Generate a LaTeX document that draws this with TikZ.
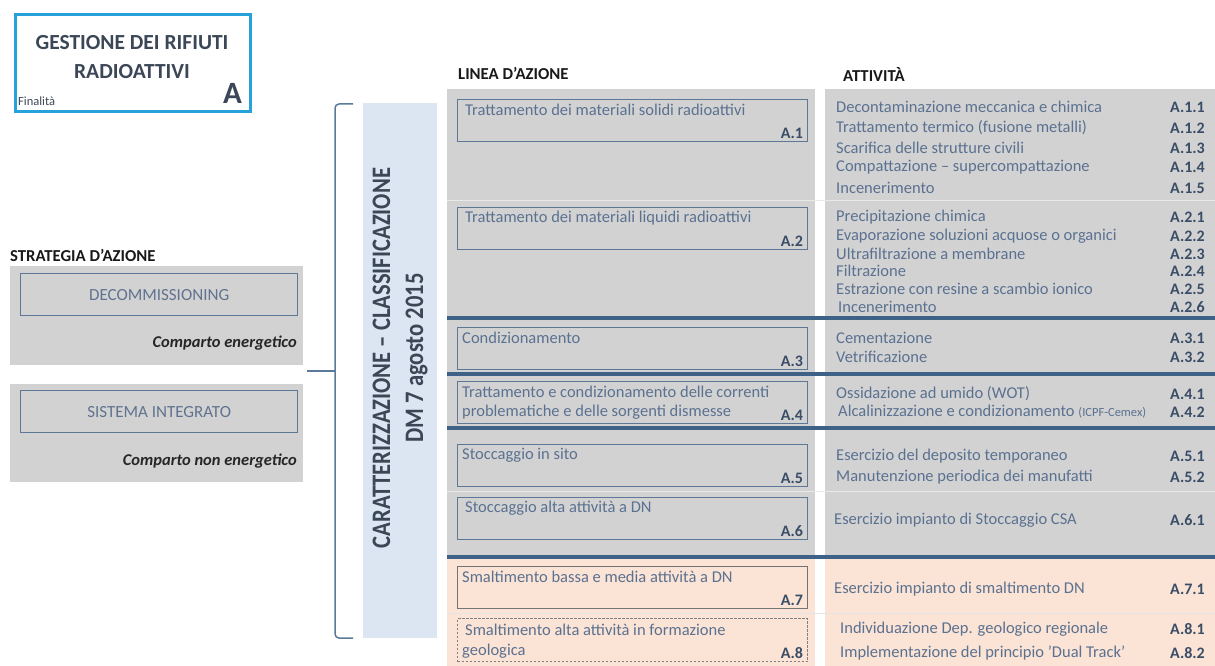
\documentclass[tikz,border=0pt]{standalone}
\usepackage{fontspec}
\setmainfont{Carlito}
\usetikzlibrary{positioning}
\definecolor{titleblue}{HTML}{27A1DA}
\definecolor{darktext}{HTML}{3B4756}
\definecolor{boxtext}{HTML}{5A7190}
\definecolor{boxborder}{HTML}{5D7896}
\definecolor{codetext}{HTML}{3A4D66}
\definecolor{panelgray}{HTML}{D2D2D3}
\definecolor{bandblue}{HTML}{DCE6F2}
\definecolor{peach}{HTML}{FBE3D5}
\definecolor{thickblue}{HTML}{3E6287}
\definecolor{thinline}{HTML}{E9E9EA}
\definecolor{bracecol}{HTML}{5B7A99}
\tikzset{
  panel/.style={fill=panelgray, draw=none},
  lbox/.style={draw=boxborder, line width=1.3pt, fill=panelgray, minimum width=350pt, minimum height=42pt, anchor=north west, inner sep=0pt},
  ltext/.style={anchor=west, inner sep=0pt, text=boxtext, font=\fontsize{16.5}{19}\selectfont},
  lcode/.style={anchor=south east, inner sep=0pt, text=codetext, font=\bfseries\fontsize{16}{19}\selectfont, xshift=-5pt, yshift=3pt},
  atext/.style={anchor=west, inner sep=0pt, text=boxtext, font=\fontsize{16.5}{19}\selectfont},
  acode/.style={anchor=east, inner sep=0pt, text=codetext, font=\bfseries\fontsize{16}{19}\selectfont},
  thickline/.style={draw=thickblue, line width=3.5pt},
  thinsep/.style={draw=thinline, line width=1pt},
  hdr/.style={anchor=west, inner sep=0pt, text=black!90, font=\bfseries\fontsize{16.7}{19}\selectfont},
  sbox/.style={draw=boxborder, line width=1.3pt, fill=panelgray, minimum width=277pt, minimum height=42pt, anchor=north west, inner sep=0pt, text=boxtext!85!gray, font=\fontsize{17}{19}\selectfont},
  comparto/.style={anchor=east, inner sep=0pt, text=black!85, font=\bfseries\itshape\fontsize{16.5}{19}\selectfont},
  bracepath/.style={draw=bracecol, line width=1.5pt, rounded corners=4pt},
}
\begin{document}
\begin{tikzpicture}[x=1pt, y=-1pt]
\useasboundingbox (0,0) rectangle (1215,666);
\fill[white] (0,0) rectangle (1215,666);

% title box
\node[draw=titleblue, line width=3pt, fill=white, minimum width=235pt, minimum height=97pt, anchor=north west, inner sep=0pt] (title) at (14,13) {};
\node[inner sep=0pt, text=darktext, align=center, font=\bfseries\fontsize{21.5}{29}\selectfont] (titletext) at (132,57) {GESTIONE DEI RIFIUTI\\RADIOATTIVI};
\node[anchor=west, inner sep=0pt, text=darktext, font=\fontsize{12.5}{14}\selectfont] (fin) at (18,101) {Finalità};
\node[anchor=east, inner sep=0pt, text=darktext, font=\bfseries\fontsize{31}{34}\selectfont] (bigA) at (242,93) {A};

% strategy
\node[hdr] (strat) at (10,255) {STRATEGIA D’AZIONE};
\fill[panelgray] (10,266) rectangle (303,365);
\node[sbox] (decom) at (20,273) {DECOMMISSIONING};
\node[comparto] (ce) at (297,343) {Comparto energetico};
\fill[panelgray] (10,384) rectangle (303,482);
\node[sbox] (sint) at (20,390) {SISTEMA INTEGRATO};
\node[comparto] (cne) at (297,461) {Comparto non energetico};

% brace
\coordinate (btop) at (353,104);
\coordinate (bbot) at (353,638);
\coordinate (bmid) at (335,371);
\coordinate (btip) at (307,371);
\draw[bracepath] (btop) -- (335,104) -- (335,638) -- (bbot);
\draw[draw=bracecol, line width=1.5pt] (bmid) -- (btip);

% band
\node[fill=bandblue, minimum width=74pt, minimum height=535pt, anchor=north west, inner sep=0pt] (band) at (363,103) {};
\node[rotate=90, inner sep=0pt, text=darktext] (bandtext) at (400,358) {\scalebox{1}[1.18]{\bfseries\fontsize{22.6}{28}\selectfont\begin{tabular}{@{}c@{}}CARATTERIZZAZIONE – CLASSIFICAZIONE\\DM 7 agosto 2015\end{tabular}}};

% headers
\node[hdr] (linea) at (458,73) {LINEA D’AZIONE};
\node[hdr] (attiv) at (843,74) {ATTIVITÀ};

% panels
\fill[panelgray] (447,89) rectangle (815,559);
\fill[panelgray] (825,89) rectangle (1215,559);
\fill[peach] (447,559) rectangle (815,666);
\fill[peach] (825,559) rectangle (1215,666);

% separators
\draw[thinsep] (447,200) -- (1215,200);
\draw[thinsep] (447,491) -- (1215,491);
\draw[draw=white!80!gray, line width=1pt] (447,613) -- (1215,613);
\draw[thickline] (447,318) -- (1215,318);
\draw[thickline] (447,374) -- (1215,374);
\draw[thickline] (447,428) -- (1215,428);
\draw[thickline] (447,557) -- (1215,557);

% line boxes
\node[lbox] (a1) at (457,99) {};
\node[ltext] at (465,110) {Trattamento dei materiali solidi radioattivi};
\node[lcode] at (a1.south east) {A.1};
\node[lbox] (a2) at (457,207) {};
\node[ltext] at (465,218) {Trattamento dei materiali liquidi radioattivi};
\node[lcode] at (a2.south east) {A.2};
\node[lbox] (a3) at (457,327) {};
\node[ltext] at (462,338) {Condizionamento};
\node[lcode] at (a3.south east) {A.3};
\node[lbox] (a4) at (457,381) {};
\node[ltext] at (462,392) {Trattamento e condizionamento delle correnti};
\node[ltext] at (462,412) {problematiche e delle sorgenti dismesse};
\node[lcode] at (a4.south east) {A.4};
\node[lbox] (a5) at (457,444) {};
\node[ltext] at (462,455) {Stoccaggio in sito};
\node[lcode] at (a5.south east) {A.5};
\node[lbox] (a6) at (457,497) {};
\node[ltext] at (465,508) {Stoccaggio alta attività a DN};
\node[lcode] at (a6.south east) {A.6};
\node[lbox, draw=black!55, fill=peach] (a7) at (457,566) {};
\node[ltext] at (462,577) {Smaltimento bassa e media attività a DN};
\node[lcode] at (a7.south east) {A.7};
\node[lbox, draw=black!50, fill=peach, dash pattern=on 2.5pt off 1.5pt, minimum height=43pt] (a8) at (457,618) {};
\node[ltext] at (465,630) {Smaltimento alta attività in formazione};
\node[ltext] at (462,651) {geologica};
\node[lcode] at (a8.south east) {A.8};

% activities
\node[atext] at (836,107) {Decontaminazione meccanica e chimica};   \node[acode] at (1205,107) {A.1.1};
\node[atext] at (836,128) {Trattamento termico (fusione metalli)};  \node[acode] at (1205,128) {A.1.2};
\node[atext] at (836,148) {Scarifica delle strutture civili};       \node[acode] at (1205,148) {A.1.3};
\node[atext] at (836,167) {Compattazione – supercompattazione};     \node[acode] at (1205,167) {A.1.4};
\node[atext] at (836,188) {Incenerimento};                          \node[acode] at (1205,188) {A.1.5};
\node[atext] at (836,217) {Precipitazione chimica};                 \node[acode] at (1205,217) {A.2.1};
\node[atext] at (836,236) {Evaporazione soluzioni acquose o organici}; \node[acode] at (1205,236) {A.2.2};
\node[atext] at (836,254) {Ultrafiltrazione a membrane};            \node[acode] at (1205,254) {A.2.3};
\node[atext] at (836,271) {Filtrazione};                            \node[acode] at (1205,271) {A.2.4};
\node[atext] at (836,289) {Estrazione con resine a scambio ionico}; \node[acode] at (1205,289) {A.2.5};
\node[atext] at (838,307) {Incenerimento};                          \node[acode] at (1205,307) {A.2.6};
\node[atext] at (836,338) {Cementazione};                           \node[acode] at (1205,338) {A.3.1};
\node[atext] at (836,357) {Vetrificazione};                         \node[acode] at (1205,357) {A.3.2};
\node[atext] at (836,394) {Ossidazione ad umido (WOT)};             \node[acode] at (1205,394) {A.4.1};
\node[atext] at (838,412) {Alcalinizzazione e condizionamento {\fontsize{12.5}{14}\selectfont(ICPF-Cemex)}}; \node[acode] at (1205,412) {A.4.2};
\node[atext] at (836,456) {Esercizio del deposito temporaneo};      \node[acode] at (1205,456) {A.5.1};
\node[atext] at (836,477) {Manutenzione periodica dei manufatti};   \node[acode] at (1205,477) {A.5.2};
\node[atext] at (834,520) {Esercizio impianto di Stoccaggio CSA};   \node[acode] at (1205,520) {A.6.1};
\node[atext] at (834,589) {Esercizio impianto di smaltimento DN};   \node[acode] at (1205,589) {A.7.1};
\node[atext] at (840,629) {Individuazione Dep. geologico regionale}; \node[acode] at (1205,629) {A.8.1};
\node[atext] at (840,653) {Implementazione del principio ’Dual Track’}; \node[acode] at (1205,653) {A.8.2};
\end{tikzpicture}
\end{document}
